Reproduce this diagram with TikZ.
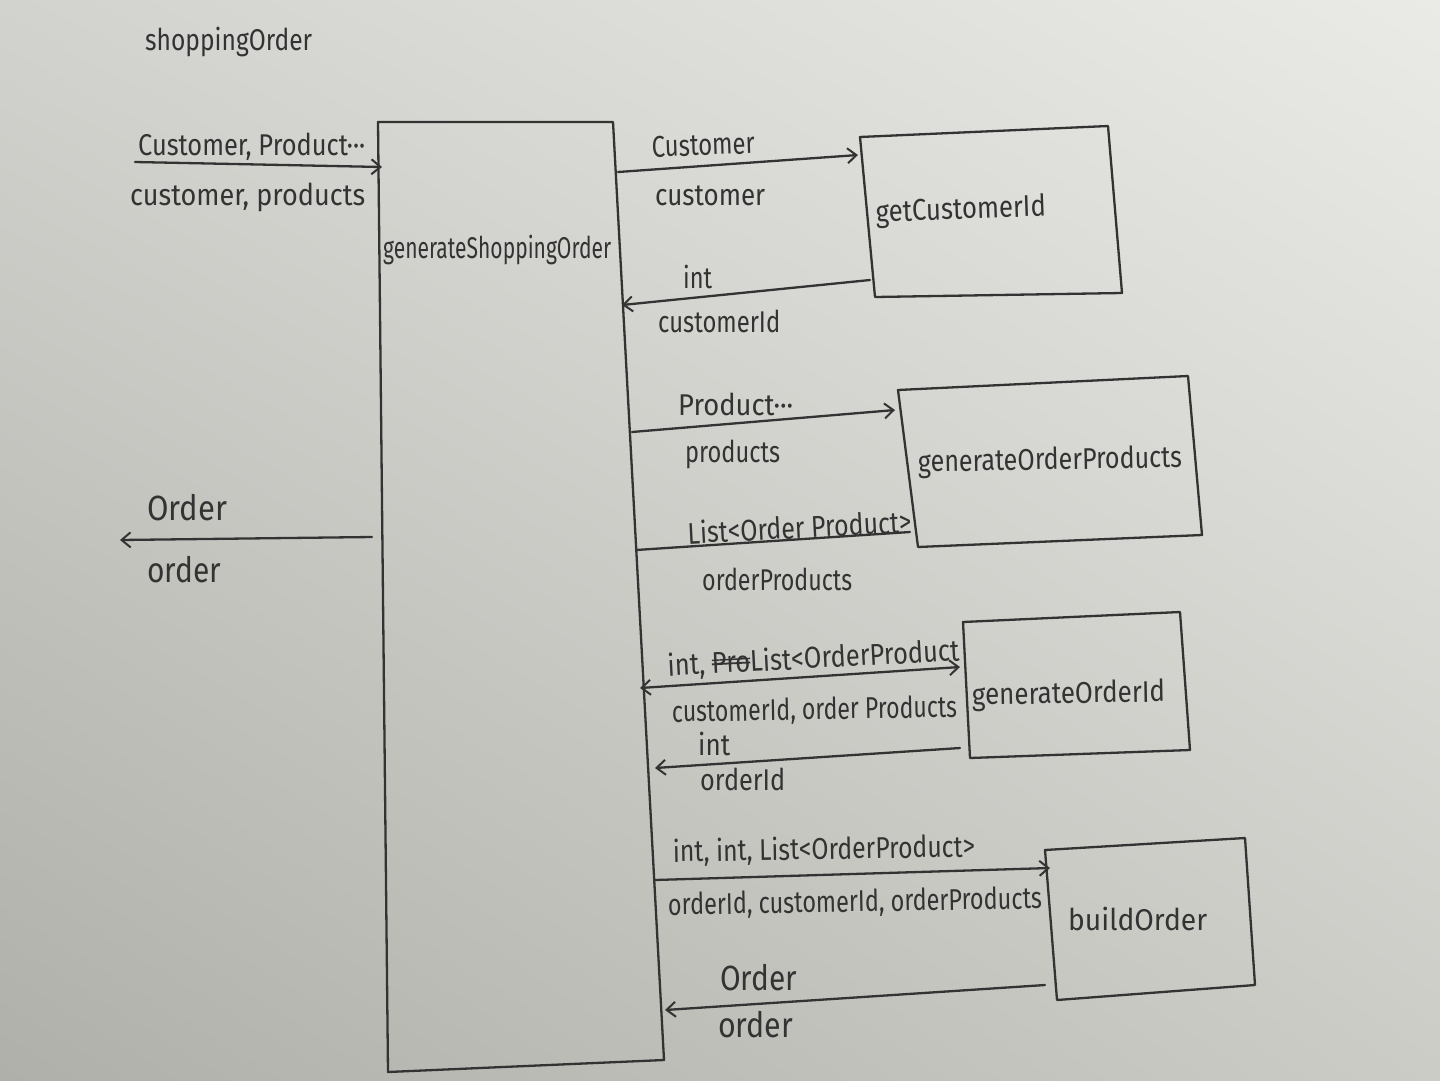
\documentclass[tikz,border=0pt]{standalone}
\usepackage{fontspec}
\setmainfont{Fira Sans}
\usepackage{graphicx}
\usetikzlibrary{arrows.meta,shadings}
\definecolor{ink}{HTML}{333333}
\definecolor{bgul}{RGB}{210,210,206}
\definecolor{bgur}{RGB}{234,234,231}
\definecolor{bgll}{RGB}{176,176,170}
\definecolor{bglr}{RGB}{204,204,199}
\newsavebox\fwbox
\newsavebox\stbox
\newcommand\fw[2]{\sbox\fwbox{#2}\pgfmathsetmacro\myfx{#1/\the\wd\fwbox}\scalebox{\myfx}[1]{\usebox\fwbox}}
\newcommand\strk[1]{\sbox\stbox{#1}\rlap{\rule[0.28em]{\wd\stbox}{1.8pt}}\rlap{\rule[0.42em]{\wd\stbox}{1.4pt}}\usebox\stbox}
\begin{document}
\begin{tikzpicture}[x=1pt,y=-1pt,
  inkline/.style={draw=ink, line width=2.3pt, line join=round, line cap=round},
  arr/.style={inkline, -{Straight Barb[length=9pt,width=15pt,line width=2pt]}},
  darr/.style={inkline, {Straight Barb[length=9pt,width=15pt,line width=2pt]}-{Straight Barb[length=9pt,width=15pt,line width=2pt]}},
  lbl/.style={text=ink, font=\fontsize{30}{34}\selectfont, inner sep=0pt, anchor=base west},
  big/.style={font=\fontsize{35}{40}\selectfont},
]
\useasboundingbox (0,0) rectangle (1440,1080);
\shade[upper left=bgul, upper right=bgur, lower left=bgll, lower right=bglr]
  (0,0) rectangle (1440,1080);

% corners of the hand-drawn boxes
\coordinate (m1) at (378,122); \coordinate (m2) at (613,122);
\coordinate (m3) at (664,1060); \coordinate (m4) at (388,1072);
\coordinate (a1) at (860,137); \coordinate (a2) at (1108,126);
\coordinate (a3) at (1122,293); \coordinate (a4) at (875,297);
\coordinate (b1) at (898,390); \coordinate (b2) at (1188,376);
\coordinate (b3) at (1202,535); \coordinate (b4) at (918,547);
\coordinate (c1) at (963,622); \coordinate (c2) at (1180,612);
\coordinate (c3) at (1190,750); \coordinate (c4) at (970,758);
\coordinate (d1) at (1045,850); \coordinate (d2) at (1245,838);
\coordinate (d3) at (1255,985); \coordinate (d4) at (1057,1000);

\draw[inkline] (m1) -- (m2) -- (m3) -- (m4) -- cycle;
\draw[inkline] (a1) -- (a2) -- (a3) -- (a4) -- cycle;
\draw[inkline] (b1) -- (b2) -- (b3) -- (b4) -- cycle;
\draw[inkline] (c1) -- (c2) -- (c3) -- (c4) -- cycle;
\draw[inkline] (d1) -- (d2) -- (d3) -- (d4) -- cycle;

% titles
\node[lbl] (title) at (145,50) {\fw{167}{shoppingOrder}};
\node[lbl] (tmain) at (383,258) {\fw{228}{generateShoppingOrder}};
\node[lbl, rotate=2] (ta) at (876,222) {\fw{170}{getCustomerId}};
\node[lbl, rotate=1] (tb) at (918,472) {\fw{264}{generateOrderProducts}};
\node[lbl, rotate=1] (tc) at (972,705) {\fw{193}{generateOrderId}};
\node[lbl] (td) at (1068,930) {\fw{139}{buildOrder}};

% connector end points
\coordinate (in0) at (135,162); \coordinate (in1) at (382,167);
\coordinate (out0) at (372,537); \coordinate (out1) at (120,540);
\coordinate (p1s) at (618,172); \coordinate (p1e) at (858,155);
\coordinate (r1s) at (870,280); \coordinate (r1e) at (622,305);
\coordinate (p2s) at (632,432); \coordinate (p2e) at (895,410);
\coordinate (r2s) at (910,532); \coordinate (r2e) at (636,550);
\coordinate (p3s) at (640,688); \coordinate (p3e) at (960,667);
\coordinate (r3s) at (960,748); \coordinate (r3e) at (655,768);
\coordinate (p4s) at (655,880); \coordinate (p4e) at (1050,868);
\coordinate (r4s) at (1045,985); \coordinate (r4e) at (665,1010);

\draw[arr] (in0) -- (in1);
\draw[arr] (out0) -- (out1);
\draw[arr] (p1s) -- (p1e);
\draw[arr] (r1s) -- (r1e);
\draw[arr] (p2s) -- (p2e);
\draw[inkline] (r2s) -- (r2e);
\draw[darr] (p3s) -- (p3e);
\draw[arr] (r3s) -- (r3e);
\draw[arr] (p4s) -- (p4e);
\draw[arr] (r4s) -- (r4e);

% labels
\node[lbl] (l1) at (138,155) {\fw{227}{Customer, Product···}};
\node[lbl] (l2) at (130,205) {\fw{235}{customer, products}};
\node[lbl, big] (l3) at (147,520) {\fw{80}{Order}};
\node[lbl, big] (l4) at (147,582) {\fw{74}{order}};
\node[lbl, rotate=2] (l5) at (652,157) {\fw{103}{Customer}};
\node[lbl] (l6) at (655,205) {\fw{110}{customer}};
\node[lbl] (l7) at (683,288) {\fw{29}{int}};
\node[lbl] (l8) at (658,332) {\fw{122}{customerId}};
\node[lbl] (l9) at (678,415) {\fw{115}{Product···}};
\node[lbl] (l10) at (685,462) {\fw{95}{products}};
\node[lbl, rotate=3] (l11) at (688,544) {\fw{224}{List<Order Product>}};
\node[lbl] (l12) at (702,590) {\fw{150}{orderProducts}};
\node[lbl, rotate=3] (l13) at (668,676) {\fw{292}{int, \strk{Pro}List<OrderProduct}};
\node[lbl, rotate=1] (l14) at (672,722) {\fw{285}{customerId, order Products}};
\node[lbl] (l15) at (698,755) {\fw{32}{int}};
\node[lbl] (l16) at (700,790) {\fw{85}{orderId}};
\node[lbl, rotate=1] (l17) at (673,862) {\fw{302}{int, int, List<OrderProduct>}};
\node[lbl, rotate=1] (l18) at (668,915) {\fw{374}{orderId, customerId, orderProducts}};
\node[lbl, big] (l19) at (720,990) {\fw{77}{Order}};
\node[lbl, big] (l20) at (718,1037) {\fw{75}{order}};
\end{tikzpicture}
\end{document}
